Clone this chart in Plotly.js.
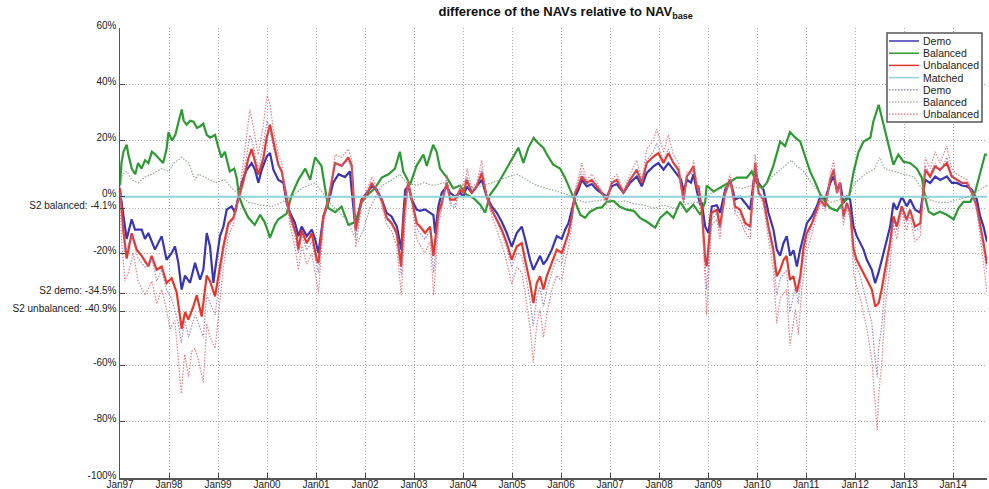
<!DOCTYPE html>
<html>
<head>
<meta charset="utf-8">
<script src="https://cdn.plot.ly/plotly-3.0.1.min.js"></script>
<style>html,body{margin:0;padding:0;background:#fff;}#chart{width:989px;height:489px;}</style>
</head>
<body>
<div id="chart"></div>
<script>
// x: years since Jan 1997, y: difference in %
const yearLabels = ['Jan97','Jan98','Jan99','Jan00','Jan01','Jan02','Jan03','Jan04','Jan05','Jan06','Jan07','Jan08','Jan09','Jan10','Jan11','Jan12','Jan13','Jan14'];
const yTickValues = [60, 40, 20, 0, -4.1, -20, -34.5, -40.9, -60, -80, -100];
const yTickLabels = ['60%', '40%', '20%', '0%', 'S2 balanced: -4.1%', '-20%', 'S2 demo: -34.5%', 'S2 unbalanced: -40.9%', '-60%', '-80%', '-100%'];
const seriesNames = ['Demo', 'Balanced', 'Unbalanced', 'Matched', 'Demo', 'Balanced', 'Unbalanced'];

const demo = [[0,2],[0.068,-7],[0.136,-15],[0.238,-8],[0.306,-11.7],[0.442,-11.7],[0.51,-15],[0.578,-12.9],[0.714,-18.8],[0.85,-14],[0.95,-22.4],[1.054,-20],[1.122,-17.7],[1.19,-23.5],[1.258,-33],[1.327,-28],[1.429,-30.6],[1.531,-23.5],[1.633,-29.5],[1.70,-26],[1.77,-12.9],[1.837,-17.7],[1.905,-30.6],[1.973,-22],[2.04,-14],[2.11,-10.6],[2.177,-4.6],[2.279,-3.4],[2.347,-5.7],[2.415,0],[2.483,5],[2.585,9.6],[2.687,12],[2.755,9.6],[2.823,5],[2.891,9.6],[2.993,14.3],[3.061,15.6],[3.129,9.6],[3.231,6],[3.333,5],[3.401,-2.2],[3.469,-5.7],[3.571,-9.3],[3.639,-14],[3.707,-10.6],[3.81,-14],[3.912,-11.7],[3.98,-15],[4.048,-20],[4.15,-7],[4.25,-2.2],[4.35,5],[4.46,8],[4.59,7],[4.69,9],[4.80,-10.6],[4.93,-1],[5.03,1.4],[5.14,3.7],[5.24,2.5],[5.34,-1],[5.44,-5.7],[5.54,-7],[5.65,-10.6],[5.74,-18.8],[5.78,-7],[5.82,2.5],[5.884,3.7],[5.952,-1],[6.054,-4.6],[6.122,-5],[6.224,-4.5],[6.327,-5.7],[6.395,-6.5],[6.429,-12.9],[6.497,-3.4],[6.565,1.4],[6.667,3.7],[6.735,1.4],[6.837,0],[6.939,1.4],[7.007,0],[7.075,3.7],[7.177,1.4],[7.279,3.7],[7.381,6],[7.483,0],[7.585,-3.4],[7.687,-5.7],[7.789,-8.9],[7.891,-12.9],[7.993,-17.7],[8.095,-12.9],[8.197,-10.6],[8.265,-15],[8.367,-22.4],[8.435,-26],[8.503,-23.5],[8.571,-21],[8.639,-24],[8.707,-22.5],[8.81,-18.8],[8.912,-14],[9.014,-15],[9.082,-11.7],[9.15,-9.4],[9.218,-4.6],[9.286,0],[9.354,2.5],[9.422,6],[9.524,3.7],[9.626,4.5],[9.728,2.5],[9.83,1.4],[9.932,0],[10.034,3.7],[10.136,4.5],[10.272,1.4],[10.408,5],[10.544,7.2],[10.646,3.7],[10.748,8.5],[10.884,10.8],[10.986,12],[11.088,9.6],[11.19,12],[11.293,9.6],[11.395,7.2],[11.45,6],[11.50,2],[11.57,6],[11.65,5],[11.70,8],[11.77,2],[11.84,-3],[11.87,-2],[11.94,-10.6],[12.007,-12.9],[12.075,-3.4],[12.177,-3],[12.245,-5.7],[12.347,2.5],[12.449,6],[12.551,-1],[12.653,0],[12.755,-2.2],[12.857,-4.6],[12.959,9.6],[13.027,4.9],[13.129,2.5],[13.231,-5.7],[13.333,-11.7],[13.401,-18.8],[13.469,-21],[13.537,-16.5],[13.605,-14],[13.673,-21],[13.741,-19],[13.81,-24.8],[13.878,-18.8],[13.946,-14],[14.014,-9.4],[14.116,-7],[14.218,-3.4],[14.286,0],[14.388,-1],[14.49,4.9],[14.558,7.2],[14.626,2.5],[14.694,4.9],[14.762,-2.2],[14.83,0],[14.898,-1],[14.966,-10.6],[15.034,-14],[15.102,-16.5],[15.17,-18.8],[15.238,-22.4],[15.34,-26],[15.408,-30.7],[15.476,-27],[15.544,-22.4],[15.612,-17.7],[15.714,-10.6],[15.782,-2.2],[15.85,-4.6],[15.952,0],[16.054,-3.4],[16.122,-1],[16.224,-4.6],[16.327,-5.7],[16.429,6],[16.531,4.9],[16.633,7.2],[16.735,6],[16.871,7.2],[16.973,4.9],[17.075,4.9],[17.177,4],[17.279,3.7],[17.381,2.5],[17.483,-1],[17.551,-7],[17.619,-10.6],[17.69,-16]];

const balanced = [[0,4],[0.03,12],[0.07,16],[0.136,18.5],[0.17,15],[0.24,10],[0.31,8],[0.37,12],[0.44,10],[0.51,13],[0.58,12],[0.65,16],[0.72,15],[0.78,14],[0.88,12],[0.95,17],[0.99,23],[1.06,20],[1.13,22],[1.20,27],[1.26,31],[1.30,27],[1.36,25.6],[1.43,27],[1.50,26.7],[1.57,24.5],[1.63,25],[1.70,26],[1.77,22],[1.84,21],[1.94,22],[2.00,18],[2.07,14],[2.14,16],[2.24,9],[2.33,10],[2.38,6.8],[2.43,0],[2.52,-4],[2.62,-7.5],[2.75,-10],[2.86,-6.4],[2.95,-9],[3.02,-12.4],[3.06,-14.6],[3.16,-10],[3.23,-8],[3.40,-6],[3.50,0.5],[3.64,6],[3.78,10],[3.88,6],[3.98,14],[4.11,11],[4.15,6.8],[4.25,-4],[4.39,-5.5],[4.52,-3.5],[4.66,-10],[4.80,-9],[4.86,-6],[4.93,-2],[5.07,1],[5.20,3],[5.34,6.8],[5.48,8],[5.61,10],[5.71,16],[5.78,9],[5.85,6.8],[5.92,4.3],[6.05,11],[6.19,15],[6.26,11],[6.39,18.5],[6.46,16],[6.53,10],[6.67,6.8],[6.80,3],[6.94,4],[7.07,0.7],[7.21,-0.4],[7.35,-2.8],[7.45,-5.7],[7.55,0.7],[7.69,4],[7.82,8],[7.96,12],[8.06,15],[8.13,17.4],[8.23,12],[8.33,17.4],[8.44,21],[8.50,19.6],[8.64,17.4],[8.71,15],[8.84,11.4],[8.98,10],[9.08,6.8],[9.18,3],[9.29,-1.8],[9.39,-6.4],[9.49,-7.5],[9.59,-5.3],[9.73,-4],[9.83,-3.8],[9.93,-1.8],[10.07,-1.5],[10.20,-3.6],[10.34,-4.6],[10.48,-5],[10.61,-7.5],[10.75,-8.9],[10.92,-11],[11.02,-7.5],[11.16,-5.3],[11.29,-7.5],[11.43,-1.8],[11.56,-5.3],[11.70,-2.8],[11.84,-6.4],[11.94,-1.8],[11.97,4],[12.11,1.8],[12.31,4],[12.45,5.3],[12.59,6.8],[12.79,6.8],[12.89,9],[12.99,5],[13.10,3],[13.20,5],[13.33,11],[13.47,19.6],[13.57,18],[13.67,23],[13.78,21],[13.88,19.6],[13.98,14],[14.08,9],[14.18,5.3],[14.29,0.7],[14.39,-1.8],[14.49,-4],[14.63,-5],[14.76,-1.8],[14.87,-0.4],[14.97,9],[15.07,16],[15.17,19.6],[15.31,21],[15.37,26.7],[15.48,32.7],[15.58,25.6],[15.68,17.4],[15.78,11.4],[15.88,15],[15.99,12.4],[16.12,12],[16.26,10],[16.36,6.8],[16.43,-0.4],[16.50,-5.3],[16.60,-6.4],[16.73,-5.3],[16.87,-6.4],[17.01,-8],[17.11,-4],[17.21,-1.8],[17.35,-1.8],[17.45,1.8],[17.55,8],[17.65,15],[17.69,15]];

const unbalanced = [[0,3],[0.068,-12],[0.136,-22],[0.238,-13],[0.34,-18.8],[0.442,-21],[0.578,-24.8],[0.646,-21],[0.748,-26],[0.85,-24.8],[0.95,-30.7],[1.054,-29],[1.156,-34],[1.258,-47],[1.327,-41],[1.395,-43.7],[1.497,-39],[1.565,-35],[1.633,-40],[1.667,-42.6],[1.769,-28],[1.837,-30],[1.939,-35.4],[2.041,-24.8],[2.109,-17.7],[2.211,-9.4],[2.313,-7.5],[2.415,-1],[2.517,5.5],[2.619,13.7],[2.687,17],[2.823,7.8],[2.925,13.7],[2.993,21],[3.061,25.6],[3.129,19.7],[3.231,11.4],[3.299,9],[3.401,-0.4],[3.469,-6.4],[3.605,-14],[3.639,-18.8],[3.707,-12],[3.81,-16.5],[3.912,-13],[4.014,-22.4],[4.048,-23.6],[4.15,-7],[4.252,-1],[4.388,12],[4.524,11],[4.66,14],[4.728,11],[4.81,-12],[4.93,-1],[5.034,0.5],[5.136,4.9],[5.238,2],[5.34,-1],[5.44,-7.5],[5.544,-9.4],[5.646,-12.9],[5.735,-24.8],[5.79,-7],[5.85,2.5],[5.884,4.9],[5.952,-1],[6.054,-9.4],[6.122,-10.6],[6.224,-12.9],[6.327,-10.6],[6.395,-21],[6.497,-5.7],[6.565,-2.2],[6.667,4.9],[6.735,-1],[6.837,-1],[6.939,2.5],[7.007,1.4],[7.075,6],[7.177,1.4],[7.279,3.7],[7.381,8.5],[7.483,0],[7.585,-4.6],[7.687,-8.2],[7.789,-11.7],[7.891,-16.5],[7.993,-22.4],[8.095,-17.7],[8.197,-16.5],[8.265,-22.4],[8.367,-30.7],[8.435,-37.8],[8.503,-30.7],[8.571,-28.3],[8.639,-33],[8.707,-28.3],[8.81,-23.6],[8.912,-18.8],[9.014,-20],[9.082,-16.5],[9.15,-12.9],[9.218,-7],[9.286,1.4],[9.354,3.7],[9.422,7.2],[9.524,4.9],[9.626,6],[9.728,3.7],[9.83,1.4],[9.932,-1],[10.034,4.9],[10.136,6],[10.272,1.4],[10.408,6],[10.544,9.6],[10.646,4.9],[10.748,12],[10.884,14.3],[10.986,15.5],[11.088,12],[11.19,15.5],[11.293,12],[11.395,9.6],[11.497,-1],[11.565,7.2],[11.60,8],[11.70,10.8],[11.77,3],[11.80,4],[11.87,-4],[11.94,-22.4],[11.97,-24.8],[12.07,-5.7],[12.18,-4.6],[12.24,-10.6],[12.35,1.4],[12.45,6],[12.55,-3.4],[12.65,-4.6],[12.76,-9.4],[12.86,-10.6],[12.96,12],[13.03,1.4],[13.13,-1],[13.23,-10.6],[13.33,-18.8],[13.40,-28.3],[13.47,-26],[13.54,-22.4],[13.60,-21],[13.67,-29.5],[13.74,-28.3],[13.81,-34],[13.88,-28.3],[13.95,-17.7],[14.01,-13],[14.12,-9.4],[14.22,-4.6],[14.29,-1],[14.39,-3.4],[14.49,6],[14.56,9.6],[14.63,1.4],[14.69,4.9],[14.76,-7],[14.83,-2.2],[14.90,-5.7],[14.97,-18.8],[15.03,-22.4],[15.10,-24.8],[15.17,-27],[15.24,-29.5],[15.34,-33],[15.41,-39],[15.48,-37.8],[15.54,-33],[15.61,-26],[15.71,-16.5],[15.78,-7],[15.85,-10.6],[15.95,-3.4],[16.05,-8.2],[16.12,-4.6],[16.22,-10.6],[16.33,-9.4],[16.43,9.6],[16.53,7.2],[16.63,10.8],[16.73,9.6],[16.87,12],[16.97,7.2],[17.07,6],[17.18,4.9],[17.28,4.9],[17.38,1.4],[17.48,-3.4],[17.55,-9.4],[17.62,-16.5],[17.69,-24]];

const matched = [[0,0],[17.69,0]];

const demoS2 = [[0,1],[0.1,-20],[0.24,-14],[0.37,-22],[0.51,-25],[0.65,-22],[0.75,-30],[0.85,-26],[0.95,-33],[1.05,-36],[1.19,-45],[1.25,-52],[1.32,-44],[1.40,-50],[1.53,-42],[1.60,-45],[1.70,-50],[1.77,-35],[1.94,-42],[2.04,-28],[2.11,-20],[2.21,-11],[2.31,-8],[2.41,-1],[2.50,7],[2.58,14],[2.65,22],[2.72,18],[2.82,10],[2.92,18],[3.00,27],[3.06,24],[3.13,17],[3.23,11],[3.30,9],[3.40,-1],[3.47,-8],[3.57,-14],[3.64,-20],[3.71,-14],[3.81,-19],[3.91,-16],[4.01,-24],[4.05,-27],[4.15,-8],[4.25,-1],[4.39,12],[4.52,11],[4.66,13],[4.73,10],[4.81,-14],[4.93,-2],[5.03,1],[5.14,5],[5.24,2],[5.34,-2],[5.44,-8],[5.54,-10],[5.65,-14],[5.74,-28],[5.82,-7],[5.88,4],[5.95,-1],[6.05,-11],[6.12,-13],[6.22,-15],[6.33,-12],[6.40,-27],[6.50,-8],[6.57,-3],[6.67,6],[6.74,-2],[6.84,-3],[6.94,3],[7.08,7],[7.18,2],[7.28,4],[7.38,10],[7.48,0],[7.59,-5],[7.69,-9],[7.79,-13],[7.89,-18],[7.99,-25],[8.10,-20],[8.20,-21],[8.27,-27],[8.37,-37],[8.43,-46],[8.50,-36],[8.57,-32],[8.64,-39],[8.71,-33],[8.81,-27],[8.91,-22],[9.01,-24],[9.08,-18],[9.15,-14],[9.22,-8],[9.29,2],[9.35,5],[9.42,9],[9.52,5],[9.63,6],[9.73,4],[9.83,1],[9.93,-2],[10.03,5],[10.14,6],[10.27,1],[10.41,6],[10.54,10],[10.65,5],[10.75,13],[10.88,16],[10.95,19],[11.09,13],[11.19,17],[11.29,12],[11.40,9],[11.50,-2],[11.57,7],[11.70,10],[11.80,2],[11.87,-6],[11.94,-24],[11.97,-33],[12.07,-8],[12.18,-6],[12.24,-12],[12.35,2],[12.45,6],[12.55,-5],[12.65,-6],[12.76,-11],[12.86,-12],[12.96,12],[13.03,2],[13.13,-2],[13.23,-12],[13.33,-21],[13.40,-35],[13.47,-29],[13.60,-26],[13.67,-41],[13.78,-32],[13.84,-38],[13.91,-26],[14.01,-16],[14.12,-10],[14.22,-5],[14.29,-1],[14.39,-4],[14.49,6],[14.56,10],[14.63,1],[14.69,5],[14.76,-8],[14.83,-3],[14.90,-6],[14.97,-21],[15.03,-25],[15.10,-28],[15.17,-33],[15.24,-37],[15.34,-45],[15.41,-58],[15.45,-64],[15.48,-54],[15.54,-46],[15.61,-31],[15.71,-19],[15.78,-8],[15.85,-12],[15.95,-4],[16.05,-9],[16.12,-5],[16.22,-12],[16.33,-11],[16.43,11],[16.53,8],[16.63,12],[16.73,9],[16.87,14],[16.97,8],[17.07,6],[17.18,5],[17.28,5],[17.38,2],[17.48,-4],[17.55,-11],[17.62,-19],[17.69,-27]];

const balancedS2 = [[0,3],[0.05,8],[0.14,9],[0.24,6],[0.37,5],[0.51,7],[0.65,8],[0.85,10],[1.0,9],[1.1,12],[1.26,14],[1.4,12],[1.53,6],[1.6,8],[1.73,7],[1.94,5],[2.14,6],[2.28,3],[2.42,1],[2.62,-2],[2.89,-3],[3.09,-3.5],[3.3,-2],[3.5,0],[3.71,3],[3.98,5],[4.11,2],[4.32,-3],[4.5,-6],[4.66,-9],[4.75,-13],[4.86,-16],[4.96,-12],[5.1,-4],[5.34,4],[5.55,6],[5.71,8],[5.85,5],[6.05,4],[6.2,5],[6.4,4],[6.6,5],[6.8,3],[7.0,4],[7.2,3],[7.4,4],[7.6,5],[7.9,7],[8.1,8],[8.3,6],[8.5,4],[8.7,3],[8.9,2],[9.1,1],[9.3,-1],[9.5,-2],[9.7,-1.5],[9.9,-1],[10.1,-2],[10.3,-1.5],[10.5,-2.5],[10.7,-3],[10.9,-4],[11.1,-3],[11.3,-4],[11.5,-3],[11.7,-2],[11.9,-2],[12.1,2],[12.3,3],[12.5,3.5],[12.7,3],[12.9,4],[13.1,3],[13.3,7],[13.5,10],[13.7,13],[13.8,11],[13.95,9],[14.1,5],[14.3,1],[14.5,-2],[14.7,-1],[14.9,1],[15.0,5],[15.2,8],[15.4,10],[15.5,14],[15.6,10],[15.8,9],[16.0,8],[16.2,7],[16.4,2],[16.5,-1],[16.7,-2],[16.9,-2],[17.1,-1],[17.3,0],[17.5,2],[17.69,4]];

const unbalancedS2 = [[0,0],[0.03,-15],[0.10,-30],[0.17,-27],[0.27,-20],[0.37,-30],[0.51,-35],[0.65,-30],[0.75,-38],[0.85,-33],[0.95,-40],[1.02,-47],[1.12,-44],[1.19,-59],[1.25,-70],[1.32,-56],[1.40,-64],[1.46,-55],[1.53,-54],[1.60,-58],[1.70,-66],[1.77,-45],[1.84,-50],[1.94,-54],[2.04,-38],[2.11,-25],[2.21,-14],[2.31,-10],[2.41,-2],[2.50,10],[2.58,20],[2.65,31],[2.72,25],[2.82,15],[2.92,25],[3.00,36],[3.06,33],[3.13,24],[3.23,15],[3.30,12],[3.40,-2],[3.47,-10],[3.57,-18],[3.64,-26],[3.71,-17],[3.81,-24],[3.91,-20],[4.01,-30],[4.05,-34],[4.15,-10],[4.25,-1],[4.39,15],[4.52,14],[4.66,17],[4.73,13],[4.81,-18],[4.93,-3],[5.03,2],[5.14,7],[5.24,3],[5.34,-3],[5.44,-10],[5.54,-12],[5.65,-18],[5.74,-35],[5.82,-8],[5.88,6],[5.95,-2],[6.05,-15],[6.12,-17],[6.22,-20],[6.33,-16],[6.40,-35],[6.50,-10],[6.57,-4],[6.67,8],[6.74,-3],[6.84,-4],[6.94,4],[7.01,1],[7.08,10],[7.18,3],[7.28,5],[7.38,13],[7.48,0],[7.59,-7],[7.69,-12],[7.79,-17],[7.89,-23],[7.99,-31],[8.10,-25],[8.20,-27],[8.27,-35],[8.37,-47],[8.43,-59],[8.50,-46],[8.57,-40],[8.64,-50],[8.71,-42],[8.81,-33],[8.91,-28],[9.01,-30],[9.08,-23],[9.15,-18],[9.22,-10],[9.29,3],[9.35,6],[9.42,12],[9.52,6],[9.63,8],[9.73,5],[9.83,2],[9.93,-3],[10.03,6],[10.14,8],[10.27,2],[10.41,8],[10.54,13],[10.65,6],[10.75,17],[10.88,20],[10.95,24],[11.09,16],[11.19,22],[11.29,15],[11.40,12],[11.50,-3],[11.57,9],[11.67,8],[11.70,13],[11.80,2],[11.87,-8],[11.94,-30],[11.97,-42],[12.07,-10],[12.18,-8],[12.24,-15],[12.35,2],[12.45,8],[12.55,-6],[12.65,-8],[12.76,-13],[12.86,-15],[12.96,15],[13.03,2],[13.13,-3],[13.23,-15],[13.33,-26],[13.40,-45],[13.47,-36],[13.60,-33],[13.67,-53],[13.78,-40],[13.84,-49],[13.91,-33],[14.01,-20],[14.12,-13],[14.22,-7],[14.29,-2],[14.39,-5],[14.49,8],[14.56,13],[14.63,1],[14.69,6],[14.76,-10],[14.83,-4],[14.90,-8],[14.97,-27],[15.03,-32],[15.10,-36],[15.17,-42],[15.24,-47],[15.34,-58],[15.41,-75],[15.45,-83],[15.48,-70],[15.54,-60],[15.61,-40],[15.71,-25],[15.78,-10],[15.85,-15],[15.95,-5],[16.05,-12],[16.12,-7],[16.22,-16],[16.33,-14],[16.43,14],[16.53,10],[16.63,16],[16.73,12],[16.87,18],[16.97,10],[17.07,8],[17.18,7],[17.28,6],[17.38,2],[17.48,-5],[17.55,-14],[17.62,-25],[17.69,-34]];

const styles = [
  {color: '#3a35b0', width: 2.2, dash: 'solid', opacity: 1},
  {color: '#2e9a34', width: 2.2, dash: 'solid', opacity: 1},
  {color: '#e8382c', width: 2.2, dash: 'solid', opacity: 1},
  {color: '#8fd4dc', width: 2, dash: 'solid', opacity: 1},
  {color: '#8a78c0', width: 1.2, dash: '1.5px,1.5px', opacity: 0.85},
  {color: '#7e9e80', width: 1.2, dash: '1.5px,1.5px', opacity: 0.85},
  {color: '#e06a72', width: 1.2, dash: '1.5px,1.5px', opacity: 0.85}
];
const seriesData = [demo, balanced, unbalanced, matched, demoS2, balancedS2, unbalancedS2];

const traces = seriesData.map((pairs, i) => ({
  type: 'scatter', mode: 'lines', name: seriesNames[i], showlegend: false,
  x: pairs.map(p => p[0]), y: pairs.map(p => p[1]),
  line: {color: styles[i].color, width: styles[i].width, dash: styles[i].dash},
  opacity: styles[i].opacity
}));

const fontFamily = '"Liberation Sans", Arial, sans-serif';
const font = {family: fontFamily, size: 10, color: '#222'};

// Plot area in page pixels (for the hand-made legend box)
const W = 989, H = 489, M = {l: 120, r: 2, t: 28, b: 11};
const pw = W - M.l - M.r, ph = H - M.t - M.b;
const px = X => (X - M.l) / pw;
const py = Y => (H - M.b - Y) / ph;

const legBox = {x0: 887, x1: 982, y0: 33, y1: 122};
const legRow0 = 41, legRowStep = 12.2, legLineX0 = 889, legLineX1 = 919, legTextX = 921;

const shapes = [{
  type: 'rect', xref: 'paper', yref: 'paper',
  x0: px(legBox.x0), x1: px(legBox.x1), y0: py(legBox.y1), y1: py(legBox.y0),
  line: {color: '#555', width: 1.5}, fillcolor: '#ffffff', layer: 'above'
}];
const annotations = [];
seriesNames.forEach((name, i) => {
  const Y = legRow0 + i * legRowStep;
  shapes.push({
    type: 'line', xref: 'paper', yref: 'paper',
    x0: px(legLineX0), x1: px(legLineX1), y0: py(Y), y1: py(Y),
    line: {color: styles[i].color, width: i < 4 ? 1.5 : 1.2, dash: styles[i].dash}, layer: 'above'
  });
  annotations.push({
    xref: 'paper', yref: 'paper', x: px(legTextX), y: py(Y),
    xanchor: 'left', yanchor: 'middle', showarrow: false, text: name,
    font: {family: fontFamily, size: 10.5, color: '#222'}
  });
});

const layout = {
  width: W, height: H,
  margin: M,
  paper_bgcolor: '#fff', plot_bgcolor: '#fff',
  font: font,
  showlegend: false,
  title: {
    text: '<b>difference of the NAVs relative to NAV<sub>base</sub></b>',
    font: {family: fontFamily, size: 13, color: '#111'},
    x: 0.572, xanchor: 'center', xref: 'container', y: 0.976, yanchor: 'middle'
  },
  xaxis: {
    range: [0, 17.69], tickmode: 'array',
    tickvals: yearLabels.map((_, i) => i), ticktext: yearLabels,
    ticks: 'inside', ticklen: 5, tickcolor: '#444', tickwidth: 1,
    showline: true, linecolor: '#555', linewidth: 1.5,
    showgrid: true, gridcolor: '#a8a8a8', griddash: '1px,2px', gridwidth: 1,
    zeroline: false, tickfont: font, ticklabelstandoff: -4
  },
  yaxis: {
    range: [-100, 60], tickmode: 'array',
    tickvals: yTickValues, ticktext: yTickLabels,
    ticks: 'inside', ticklen: 5, tickcolor: '#444', tickwidth: 1,
    showline: true, linecolor: '#555', linewidth: 1.5,
    showgrid: true, gridcolor: '#a8a8a8', griddash: '1px,2px', gridwidth: 1,
    zeroline: false, tickfont: font, ticklabelshift: -3
  },
  shapes: shapes,
  annotations: annotations
};

Plotly.newPlot('chart', traces, layout, {staticPlot: true, displayModeBar: false});
</script>
</body>
</html>
